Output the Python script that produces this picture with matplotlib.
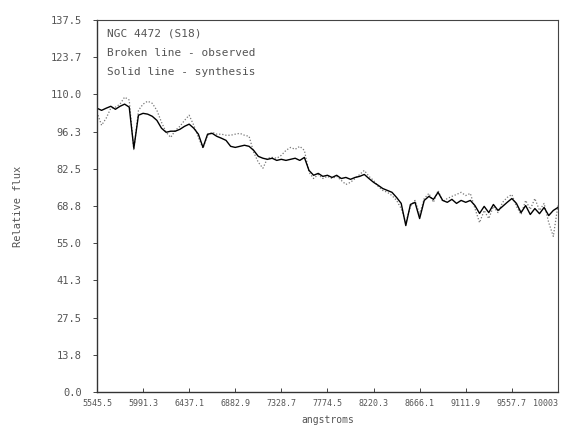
import numpy as np
import matplotlib
matplotlib.use("Agg")
import matplotlib.pyplot as plt

# Synthesis (solid) and observed (broken) relative flux, sampled evenly 5545.5 -> 10003 A
synthesis = [104.9, 104.1, 104.9, 105.6, 104.5, 105.6, 106.4, 105.3, 90.1, 102.3,
             103.0, 102.7, 101.9, 100.4, 97.5, 96.0, 96.4, 96.4, 97.1, 98.2,
             99.0, 97.5, 95.3, 90.4, 95.3, 95.6, 94.5, 93.8, 93.0, 90.8,
             90.4, 90.8, 91.2, 90.8, 89.3, 87.1, 86.4, 86.0, 86.4, 85.6,
             86.0, 85.6, 86.0, 86.4, 85.6, 86.7, 81.9, 80.1, 80.8, 79.7,
             80.1, 79.3, 80.1, 78.9, 79.3, 78.6, 79.3, 79.7, 80.4, 78.9,
             77.5, 76.4, 75.2, 74.5, 73.8, 71.9, 69.7, 61.5, 69.3, 70.1,
             64.1, 70.8, 72.3, 71.2, 73.8, 70.8, 70.1, 71.2, 69.7, 70.8,
             70.1, 70.8, 68.9, 66.0, 68.6, 66.3, 69.3, 67.1, 68.6, 70.1,
             71.5, 69.7, 66.3, 68.9, 65.6, 67.8, 65.9, 68.2, 65.2, 67.1,
             68.2]

observed = [103.4, 98.6, 101.2, 104.9, 105.3, 106.4, 109.0, 107.9, 89.3, 104.1,
            106.4, 107.5, 106.7, 104.1, 99.7, 96.0, 94.1, 96.7, 98.2, 100.4,
            102.3, 98.6, 94.1, 90.1, 94.9, 96.0, 95.3, 95.3, 94.9, 94.9,
            95.3, 95.6, 94.9, 94.5, 88.6, 84.9, 82.7, 86.4, 86.7, 86.4,
            87.5, 89.3, 90.4, 89.7, 90.8, 89.3, 81.2, 78.9, 80.4, 78.9,
            79.7, 78.9, 79.7, 78.2, 76.7, 77.5, 78.9, 80.4, 81.9, 79.7,
            78.2, 76.0, 74.5, 73.8, 72.6, 70.8, 67.8, 62.6, 68.6, 70.8,
            65.6, 71.5, 73.4, 70.1, 74.5, 70.4, 71.5, 72.3, 73.0, 73.8,
            72.6, 73.4, 67.8, 62.6, 67.1, 64.1, 68.6, 66.3, 70.1, 71.9,
            73.0, 68.6, 65.6, 70.8, 67.5, 71.5, 67.1, 69.7, 62.6, 57.5,
            68.9]

wl_start, wl_end = 5545.5, 10003.0
wavelength = np.linspace(wl_start, wl_end, len(synthesis))

x_ticks = [5545.5, 5991.3, 6437.1, 6882.9, 7328.7, 7774.5, 8220.3, 8666.1, 9111.9, 9557.7, 10003.0]
x_labels = ["5545.5", "5991.3", "6437.1", "6882.9", "7328.7", "7774.5",
            "8220.3", "8666.1", "9111.9", "9557.7", "10003"]
y_ticks = [0.0, 13.75, 27.5, 41.25, 55.0, 68.75, 82.5, 96.25, 110.0, 123.75, 137.5]
y_labels = ["0.0", "13.8", "27.5", "41.3", "55.0", "68.8", "82.5", "96.3", "110.0", "123.7", "137.5"]

notes = ["NGC 4472 (S18)", "Broken line - observed", "Solid line - synthesis"]

mono = "DejaVu Sans Mono"
tcol = "#555555"

fig = plt.figure(figsize=(5.67, 4.26), dpi=100)
ax = fig.add_axes([0.171, 0.080, 0.813, 0.873])

ax.plot(wavelength, observed, linestyle=(0, (1, 1.5)), color="#777777", linewidth=0.9)
ax.plot(wavelength, synthesis, linestyle="-", color="black", linewidth=1.0)

ax.set_xlim(wl_start, wl_end)
ax.set_ylim(0, 137.5)
ax.set_xticks(x_ticks)
ax.set_xticklabels(x_labels, fontfamily=mono, fontsize=6, color=tcol)
ax.set_yticks(y_ticks)
ax.set_yticklabels(y_labels, fontfamily=mono, fontsize=7.5, color=tcol)
ax.tick_params(axis="x", direction="in", length=3, width=0.7, pad=5, colors="#444444")
ax.tick_params(axis="y", direction="out", length=3, width=0.7, pad=8, colors="#444444")
for lab in ax.get_xticklabels() + ax.get_yticklabels():
    lab.set_color(tcol)
xl = ax.get_xticklabels()
xl[-1].set_horizontalalignment("right")

for side in ["left", "bottom"]:
    ax.spines[side].set_linewidth(1.0)
    ax.spines[side].set_color("#333333")
for side in ["top", "right"]:
    ax.spines[side].set_linewidth(0.8)
    ax.spines[side].set_color("#444444")

ax.set_xlabel("angstroms", fontfamily=mono, fontsize=7, color=tcol, labelpad=5)
ax.set_ylabel("Relative flux", fontfamily=mono, fontsize=7.5, color=tcol, labelpad=20)

ys = [0.965, 0.912, 0.86]
for t, yy in zip(notes, ys):
    ax.text(0.022, yy, t, transform=ax.transAxes, fontfamily=mono, fontsize=8,
            color=tcol, va="center", ha="left")

fig.savefig("out.png", dpi=100, facecolor="white")
